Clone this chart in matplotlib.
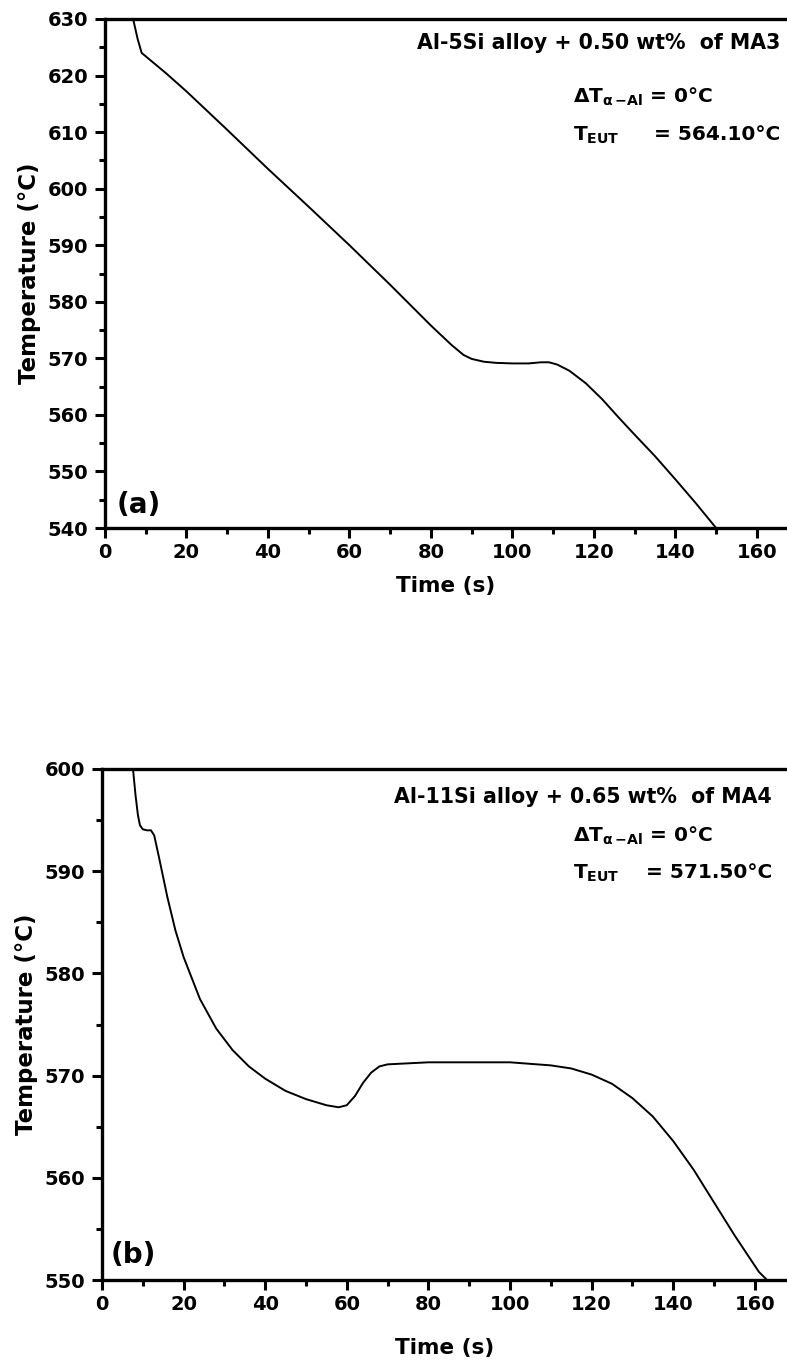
import matplotlib
matplotlib.use("Agg")
import matplotlib.pyplot as plt
from matplotlib.ticker import MultipleLocator

plt.rcParams['font.family'] = ['DejaVu Sans']
plt.rcParams['font.weight'] = 'bold'
plt.rcParams['mathtext.fontset'] = 'custom'
plt.rcParams['mathtext.rm'] = 'DejaVu Sans:bold'
plt.rcParams['mathtext.it'] = 'DejaVu Sans:bold'
plt.rcParams['mathtext.bf'] = 'DejaVu Sans:bold'
plt.rcParams['mathtext.sf'] = 'DejaVu Sans:bold'

# ---- data panel (a) ----
time_a = [6.9, 8.0, 9.0, 10, 15, 20, 30, 40, 50, 60, 70, 80, 85, 88, 90, 93, 96,
          100, 104, 107, 109, 111, 114, 118, 122, 126, 130, 135, 140, 145, 150]
temp_a = [630, 626.5, 624, 623.4, 620.4, 617.2, 610.4, 603.5, 596.8, 590.0, 583.0,
          575.8, 572.4, 570.6, 569.9, 569.4, 569.2, 569.1, 569.1, 569.3, 569.3, 568.9,
          567.8, 565.6, 562.8, 559.6, 556.5, 552.7, 548.6, 544.4, 540]

# ---- data panel (b) ----
time_b = [7.6, 8.2, 8.8, 9.3, 10, 11, 12, 12.8, 14, 16, 18, 20, 24, 28, 32, 36, 40,
          45, 50, 55, 58, 60, 62, 64, 66, 68, 70, 75, 80, 90, 100, 110, 115, 120, 125,
          130, 135, 140, 145, 150, 155, 158, 161, 163]
temp_b = [600, 597.5, 595.5, 594.5, 594.1, 594.0, 594.0, 593.5, 591.3, 587.5, 584.2,
          581.6, 577.5, 574.6, 572.5, 570.9, 569.7, 568.5, 567.7, 567.1, 566.9, 567.1,
          568.0, 569.3, 570.3, 570.9, 571.1, 571.2, 571.3, 571.3, 571.3, 571.0, 570.7,
          570.1, 569.2, 567.8, 566.0, 563.6, 560.8, 557.6, 554.4, 552.6, 550.8, 550]

xticks = [0, 20, 40, 60, 80, 100, 120, 140, 160]
yticks_a = [540, 550, 560, 570, 580, 590, 600, 610, 620, 630]
yticks_b = [550, 560, 570, 580, 590, 600]

title_a = "Al-5Si alloy + 0.50 wt%  of MA3"
title_b = "Al-11Si alloy + 0.65 wt%  of MA4"
teut_a = "= 564.10°C"
teut_b = "= 571.50°C"

W, H = 787, 1366
fig = plt.figure(figsize=(W / 100, H / 100), dpi=100)


def px(x, y):
    return x / W, 1 - y / H


def make_axes(left, top, bottom, xmax):
    ax = fig.add_axes([left / W, 1 - bottom / H, 1 - left / W, (bottom - top) / H])
    ax.set_xlim(0, xmax)
    ax.spines['right'].set_visible(False)
    for s in ['left', 'bottom', 'top']:
        ax.spines[s].set_linewidth(2.4)
    ax.tick_params(which='major', direction='out', length=7, width=2.2,
                   labelsize=14, pad=4)
    ax.tick_params(axis='y', which='major', pad=5)
    ax.tick_params(which='minor', direction='out', length=4, width=2.2)
    ax.xaxis.set_minor_locator(MultipleLocator(10))
    ax.yaxis.set_minor_locator(MultipleLocator(5))
    ax.set_xticks(xticks)
    for lab in ax.get_xticklabels() + ax.get_yticklabels():
        lab.set_fontweight('bold')
    return ax


# panel (a)
ax1 = make_axes(105, 19, 528, 167.4)
ax1.plot(time_a, temp_a, color='black', lw=1.4)
ax1.set_ylim(540, 630)
ax1.set_yticks(yticks_a)
ax1.set_xlabel("Time (s)", fontsize=15.5, fontweight='bold', labelpad=10)
ax1.set_ylabel("Temperature (°C)", fontsize=16.5, fontweight='bold', labelpad=5)
fig.text(*px(117, 505), "(a)", fontsize=20, fontweight='bold', ha='left', va='center')
fig.text(*px(780, 43), title_a, fontsize=14.8, fontweight='bold', ha='right', va='center')
fig.text(*px(573, 97), r"$\Delta T_{\alpha\,\mathrm{-Al}}$ = 0°C", fontsize=14.5,
         fontweight='bold', ha='left', va='center')
fig.text(*px(573, 135), r"$T_{\mathrm{EUT}}$", fontsize=14.5, fontweight='bold',
         ha='left', va='center')
fig.text(*px(780, 135), teut_a, fontsize=14.5, fontweight='bold', ha='right', va='center')

# panel (b)
ax2 = make_axes(102, 769, 1280, 167.9)
ax2.plot(time_b, temp_b, color='black', lw=1.4)
ax2.set_ylim(550, 600)
ax2.set_yticks(yticks_b)
ax2.set_xlabel("Time (s)", fontsize=15.5, fontweight='bold', labelpad=17)
ax2.set_ylabel("Temperature (°C)", fontsize=16.5, fontweight='bold', labelpad=5)
fig.text(*px(111, 1255), "(b)", fontsize=20, fontweight='bold', ha='left', va='center')
fig.text(*px(772, 797), title_b, fontsize=14.8, fontweight='bold', ha='right', va='center')
fig.text(*px(573, 836), r"$\Delta T_{\alpha\,\mathrm{-Al}}$ = 0°C", fontsize=14.5,
         fontweight='bold', ha='left', va='center')
fig.text(*px(573, 873), r"$T_{\mathrm{EUT}}$", fontsize=14.5, fontweight='bold',
         ha='left', va='center')
fig.text(*px(772, 873), teut_b, fontsize=14.5, fontweight='bold', ha='right', va='center')

fig.savefig("out.png", dpi=100)
